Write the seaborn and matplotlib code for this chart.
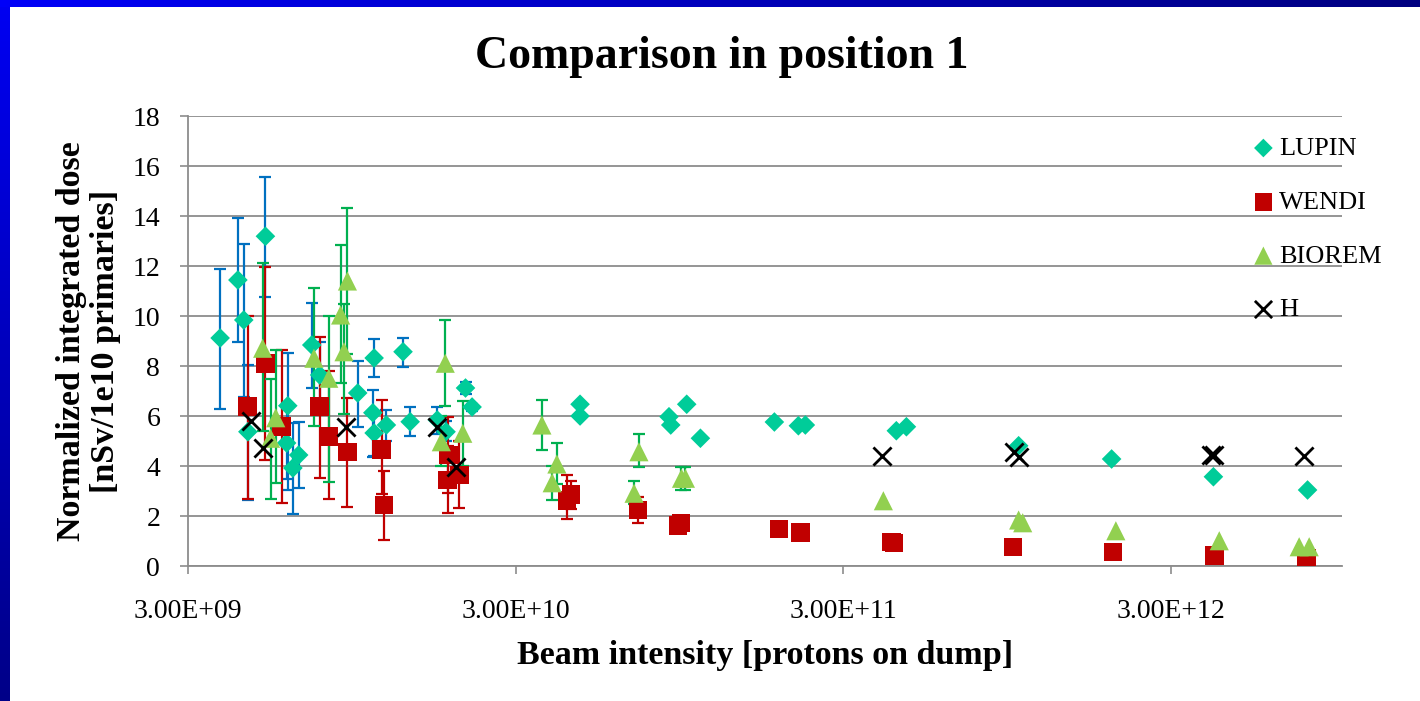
import numpy as np
import pandas as pd
import seaborn as sns
import matplotlib
matplotlib.use('Agg')
import matplotlib.pyplot as plt
from matplotlib.ticker import FixedLocator, FixedFormatter, NullLocator

nan = np.nan

# LUPIN: beam intensity [protons on dump], dose, error bar bounds (nan = no visible bar)
lupin_x = [3.76e9, 4.26e9, 4.44e9, 4.57e9, 5.17e9, 6.05e9, 6.0e9, 6.27e9, 6.53e9, 7.16e9,
           7.57e9, 9.89e9, 1.11e10, 1.10e10, 1.11e10, 1.21e10, 1.36e10, 1.43e10, 1.73e10, 1.84e10,
           2.11e10, 2.21e10, 4.72e10, 4.72e10, 8.82e10, 8.93e10, 9.99e10, 1.10e11, 1.85e11, 2.19e11,
           2.30e11, 4.36e11, 4.68e11, 1.03e12, 1.98e12, 4.05e12, 7.85e12]
lupin_y = [9.12, 11.44, 9.84, 5.37, 13.19, 6.41, 4.92, 3.92, 4.44, 8.84,
           7.64, 6.92, 8.32, 6.13, 5.32, 5.64, 8.57, 5.77, 5.84, 5.37,
           7.12, 6.36, 6.47, 6.0, 5.97, 5.64, 6.47, 5.11, 5.76, 5.61,
           5.64, 5.41, 5.57, 4.81, 4.28, 3.57, 3.04]
lupin_lo = [6.3, 8.97, 6.77, 2.64, 10.77, 3.04, 3.5, 2.08, 3.12, 7.12,
            6.3, 5.56, 7.56, 4.36, 4.4, 5.0, 7.97, 5.2, 5.3, 5.0,
            6.9, 6.2, nan, nan, nan, nan, nan, nan, nan, nan,
            nan, nan, nan, nan, nan, nan, nan]
lupin_hi = [11.9, 13.93, 12.88, 8.04, 15.57, 8.52, 6.4, 5.72, 5.77, 10.52,
            8.97, 8.21, 9.08, 7.04, 6.2, 6.24, 9.12, 6.36, 6.37, 5.8,
            7.35, 6.5, nan, nan, nan, nan, nan, nan, nan, nan,
            nan, nan, nan, nan, nan, nan, nan]

# WENDI
wendi_x = [4.56e9, 5.17e9, 5.79e9, 7.57e9, 8.07e9, 9.2e9, 1.17e10, 1.19e10, 1.87e10, 1.86e10,
           2.02e10, 4.31e10, 4.43e10, 7.09e10, 9.59e10, 9.4e10, 1.91e11, 2.22e11, 4.21e11, 4.29e11,
           9.91e11, 2.0e12, 4.09e12, 7.79e12]
wendi_y = [6.37, 8.11, 5.57, 6.37, 5.17, 4.56, 4.67, 2.44, 4.44, 3.44,
           3.64, 2.62, 2.85, 2.24, 1.72, 1.62, 1.48, 1.33, 0.96, 0.92,
           0.76, 0.56, 0.41, 0.32]
wendi_lo = [2.68, 4.24, 2.53, 3.52, 2.69, 2.37, 2.9, 1.04, 2.93, 2.13,
            2.31, 1.87, 2.3, 1.72, nan, nan, nan, nan, nan, nan,
            nan, nan, nan, nan]
wendi_hi = [10.0, 11.97, 8.64, 9.17, 7.8, 6.72, 6.64, 3.81, 5.96, 4.8,
            5.0, 3.64, 3.4, 2.77, nan, nan, nan, nan, nan, nan,
            nan, nan, nan, nan]

# BIOREM
biorem_x = [5.07e9, 5.56e9, 5.36e9, 7.27e9, 8.07e9, 8.77e9, 9.2e9, 8.98e9, 1.83e10, 1.78e10,
            2.07e10, 3.61e10, 4.01e10, 3.88e10, 7.14e10, 6.9e10, 9.63e10, 9.9e10, 3.98e11, 1.03e12,
            1.06e12, 2.04e12, 4.22e12, 7.4e12, 7.94e12]
biorem_y = [8.71, 5.93, 5.11, 8.31, 7.51, 10.04, 11.4, 8.57, 8.11, 4.97,
            5.31, 5.64, 4.08, 3.33, 4.57, 2.91, 3.51, 3.51, 2.61, 1.84,
            1.73, 1.41, 1.01, 0.77, 0.77]
biorem_lo = [5.4, 3.31, 2.68, 5.61, 3.37, 7.31, 8.5, 6.08, 6.4, 4.0,
             4.0, 4.64, 3.3, 2.64, 3.97, 2.5, 3.04, 3.04, nan, nan,
             nan, nan, nan, nan, nan]
biorem_hi = [12.13, 8.64, 7.5, 11.13, 10.01, 12.84, 14.31, 10.5, 9.84, 6.0,
             6.6, 6.64, 4.93, 4.0, 5.28, 3.41, 3.97, 3.97, nan, nan,
             nan, nan, nan, nan, nan]

# H (no error bars)
h_x = [4.66e9, 5.07e9, 9.09e9, 1.73e10, 1.97e10, 3.95e11, 1.0e12, 1.03e12, 3.97e12, 4.07e12, 7.67e12]
h_y = [5.81, 4.71, 5.57, 5.55, 3.97, 4.4, 4.57, 4.37, 4.44, 4.44, 4.4]

x_ticks = [3e9, 3e10, 3e11, 3e12]
x_tick_labels = ['3.00E+09', '3.00E+10', '3.00E+11', '3.00E+12']
y_ticks = [0, 2, 4, 6, 8, 10, 12, 14, 16, 18]


def draw_series(ax, x, y, lo, hi, label, marker, color, ecolor, size):
    df = pd.DataFrame({'x': x, 'y': y, 'lo': lo, 'hi': hi})
    bars = df.dropna()
    if len(bars):
        ax.errorbar(bars['x'], bars['y'],
                    yerr=[bars['y'] - bars['lo'], bars['hi'] - bars['y']],
                    fmt='none', ecolor=ecolor, elinewidth=1.6,
                    capsize=4.5, capthick=1.6, zorder=2)
    sns.scatterplot(data=df, x='x', y='y', marker=marker, color=color, s=size,
                    linewidth=0, edgecolor='none', label=label, ax=ax, zorder=3)


sns.set_theme(style='white')
plt.rcParams['font.family'] = ['Liberation Serif', 'DejaVu Serif']
plt.rcParams['text.color'] = 'black'
plt.rcParams['axes.labelcolor'] = 'black'

fig = plt.figure(figsize=(14.2, 7.01), dpi=100)
fig.patch.set_facecolor('white')

# slide border (blue gradient strips, left and top)
left = fig.add_axes([0, 0, 10 / 1420, 1])
left.imshow(np.linspace(0, 1, 256).reshape(-1, 1), aspect='auto',
            cmap=matplotlib.colors.LinearSegmentedColormap.from_list('b', ['#0000f2', '#000088']))
left.axis('off')
top = fig.add_axes([0, 1 - 7 / 701, 1, 7 / 701])
top.imshow(np.linspace(0, 1, 256).reshape(1, -1), aspect='auto',
           cmap=matplotlib.colors.LinearSegmentedColormap.from_list('t', ['#0000f8', '#000080']))
top.axis('off')

ax = fig.add_axes([188 / 1420, 1 - 566 / 701, 1154 / 1420, 450 / 701])

draw_series(ax, lupin_x, lupin_y, lupin_lo, lupin_hi, 'LUPIN', 'D', '#00cc99', '#0070c0', 100)
draw_series(ax, wendi_x, wendi_y, wendi_lo, wendi_hi, 'WENDI', 's', '#c00000', '#c00000', 180)
draw_series(ax, biorem_x, biorem_y, biorem_lo, biorem_hi, 'BIOREM', '^', '#92d050', '#00b050', 190)
sns.scatterplot(x=h_x, y=h_y, marker='x', color='black', s=170, linewidth=2,
                label='H', ax=ax, zorder=4)

ax.set_xscale('log')
ax.set_xlim(3e9, 1e13)
ax.set_ylim(0, 18)
ax.xaxis.set_major_locator(FixedLocator(x_ticks))
ax.xaxis.set_major_formatter(FixedFormatter(x_tick_labels))
ax.xaxis.set_minor_locator(NullLocator())
ax.set_yticks(y_ticks)

ax.grid(axis='y', color='#8c8c8c', linewidth=1.3)
ax.grid(axis='x', visible=False)
ax.set_axisbelow(True)
for side in ['top', 'right']:
    ax.spines[side].set_visible(False)
for side in ['left', 'bottom']:
    ax.spines[side].set_color('#8c8c8c')
    ax.spines[side].set_linewidth(1.3)

ax.tick_params(axis='both', direction='out', length=6, width=1.2, color='#8c8c8c',
               labelsize=20, labelcolor='black')
ax.tick_params(axis='y', pad=14, left=True)
ax.tick_params(axis='x', pad=18, bottom=True)

ax.set_xlabel('Beam intensity [protons on dump]', fontsize=24.5, fontweight='bold')
ax.set_ylabel('Normalized integrated dose\n[nSv/1e10 primaries]', fontsize=24.5,
              fontweight='bold', linespacing=1.12)
ax.xaxis.set_label_coords(0.5, -0.165)
ax.yaxis.set_label_coords(-0.058, 0.5)

fig.text(722 / 1420, 1 - 57 / 701, 'Comparison in position 1', ha='center', va='center',
         fontsize=33, fontweight='bold')

leg = ax.legend(loc='upper left', bbox_to_anchor=(0.909, 0.978), frameon=False, fontsize=19,
                handletextpad=0.0, labelspacing=1.15, borderaxespad=0, handlelength=1.2,
                markerscale=0.95)
for t in leg.get_texts():
    t.set_color('black')

fig.savefig('out.png', dpi=100)
